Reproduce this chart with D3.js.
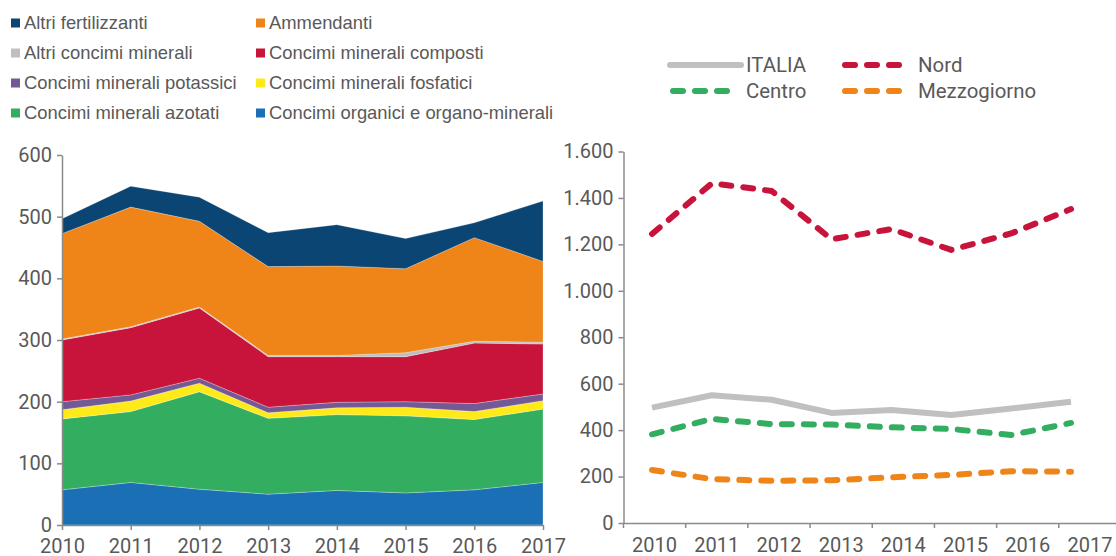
<!DOCTYPE html>
<meta charset="utf-8">
<style>
body { margin: 0; background: #fff; }
svg { display: block; }
.axis text { font: 20px Roboto, sans-serif; fill: #595959; }
.axis line, .axis path { fill: none; stroke: #8a8a8a; stroke-width: 1.5px; }
.legend-left text { font: 18.4px "Liberation Sans", Arial, sans-serif; fill: #595959; }
.legend-right text { font: 20.4px Roboto, sans-serif; fill: #595959; }
</style>
<body>
<script src="https://cdn.jsdelivr.net/npm/d3@7"></script>
<script>

// tonnellate (migliaia) per tipo di fertilizzante
var years = [2010, 2011, 2012, 2013, 2014, 2015, 2016, 2017];

var organici    = [57, 69, 58, 50, 56, 52, 57, 69];
var azotati     = [115, 115, 158, 123, 123, 125, 114, 119];
var fosfatici   = [15, 17, 14, 9, 11, 14, 13, 13.5];
var potassici   = [13, 10, 8, 9, 9, 9, 13, 11];
var composti    = [100, 109, 114, 82, 74, 73, 98, 81];
var altriConcimi = [1.5, 1.5, 1.5, 2, 2, 6.5, 3, 3];
var ammendanti  = [171, 194, 139, 144, 145, 136, 168, 131];
var altriFert   = [24, 34, 39, 55, 67, 49, 24, 98];

// ripartizione territoriale
var italia      = [497, 550, 531, 474, 487, 465, 493, 522];
var nord        = [1245, 1463, 1430, 1222, 1266, 1176, 1247, 1352];
var centro      = [382, 448, 426, 424, 412, 405, 379, 431];
var mezzogiorno = [228, 189, 182, 184, 197, 207, 223, 221];

var leftTicks = [0, 100, 200, 300, 400, 500, 600];
var rightTicks = [0, 200, 400, 600, 800, 1000, 1200, 1400, 1600];

var layers = [
  {key: "organici", name: "Concimi organici e organo-minerali", values: organici, color: "#1a6fb5"},
  {key: "azotati", name: "Concimi minerali azotati", values: azotati, color: "#33ae60"},
  {key: "fosfatici", name: "Concimi minerali fosfatici", values: fosfatici, color: "#ffea19"},
  {key: "potassici", name: "Concimi minerali potassici", values: potassici, color: "#735a94"},
  {key: "composti", name: "Concimi minerali composti", values: composti, color: "#c8143b"},
  {key: "altriConcimi", name: "Altri concimi minerali", values: altriConcimi, color: "#bfbfbf"},
  {key: "ammendanti", name: "Ammendanti", values: ammendanti, color: "#ef8419"},
  {key: "altriFert", name: "Altri fertilizzanti", values: altriFert, color: "#0a4573"}
];

// legend order (two columns, row by row)
var legendOrder = ["altriFert", "ammendanti", "altriConcimi", "composti",
                   "potassici", "fosfatici", "azotati", "organici"];

var regions = [
  {name: "ITALIA", values: italia, color: "#c0c0c0", dash: null},
  {name: "Nord", values: nord, color: "#c8143b", dash: "10,12"},
  {name: "Centro", values: centro, color: "#33ae60", dash: "10,12"},
  {name: "Mezzogiorno", values: mezzogiorno, color: "#ef8419", dash: "10,12"}
];

var svg = d3.select("body").append("svg")
    .attr("width", 1116)
    .attr("height", 556);

// ---------- left: stacked areas ----------
var table = years.map(function(y, i) {
  var row = {year: y};
  layers.forEach(function(l) { row[l.key] = l.values[i]; });
  return row;
});

var stack = d3.stack().keys(layers.map(function(l) { return l.key; }));
var series = stack(table);

var x = d3.scalePoint().domain(years).range([62, 543]);
var y = d3.scaleLinear().domain([0, 600]).range([525, 155]);

var area = d3.area()
    .x(function(d) { return x(d.data.year); })
    .y0(function(d) { return y(d[0]); })
    .y1(function(d) { return y(d[1]); });

svg.append("g").selectAll("path")
    .data(series)
  .enter().append("path")
    .attr("d", area)
    .attr("fill", function(d, i) { return layers[i].color; })
    .attr("stroke", "#fff")
    .attr("stroke-opacity", 0.5)
    .attr("stroke-width", 0.5);

svg.append("g")
    .attr("class", "axis")
    .attr("transform", "translate(0,525)")
    .call(d3.axisBottom(x).tickSize(5).tickSizeOuter(0).tickPadding(9));

svg.append("g")
    .attr("class", "axis")
    .attr("transform", "translate(62,0)")
    .call(d3.axisLeft(y).tickValues(leftTicks).tickSize(5).tickSizeOuter(0).tickPadding(5));

var legL = svg.append("g").attr("class", "legend-left");
legendOrder.forEach(function(k, i) {
  var l = layers.find(function(d) { return d.key === k; });
  var row = legL.append("g")
      .attr("transform", "translate(" + (i % 2 ? 256 : 11) + "," + (18.5 + Math.floor(i / 2) * 30) + ")");
  row.append("rect").attr("width", 9).attr("height", 9).attr("fill", l.color);
  row.append("text").attr("x", 13).attr("y", 10).text(l.name);
});

// ---------- right: regional lines ----------
var itFormat = d3.formatLocale({decimal: ",", thousands: ".", grouping: [3], currency: ["€", ""]}).format(",");

var xb = d3.scaleBand().domain(years).range([623.5, 1121]);
var xl = d3.scalePoint().domain(years).range([652, 1071]);
var yr = d3.scaleLinear().domain([0, 1600]).range([523, 151.5]);

var line = d3.line()
    .x(function(d, i) { return xl(years[i]); })
    .y(function(d) { return yr(d); });

var xAxisR = svg.append("g")
    .attr("class", "axis")
    .attr("transform", "translate(0,523)")
    .call(d3.axisBottom(xb).tickSize(0).tickSizeOuter(0).tickPadding(14.5));

xAxisR.selectAll(".edge")
    .data(years)
  .enter().append("line")
    .attr("class", "edge")
    .attr("x1", function(d) { return xb(d); })
    .attr("x2", function(d) { return xb(d); })
    .attr("y2", 5);

svg.append("g")
    .attr("class", "axis")
    .attr("transform", "translate(623.5,0)")
    .call(d3.axisLeft(yr).tickValues(rightTicks).tickFormat(itFormat)
      .tickSize(5).tickSizeOuter(0).tickPadding(5));

svg.append("g").selectAll("path")
    .data(regions)
  .enter().append("path")
    .attr("d", function(d) { return line(d.values); })
    .attr("fill", "none")
    .attr("stroke", function(d) { return d.color; })
    .attr("stroke-width", 6)
    .attr("stroke-linecap", function(d) { return d.dash ? "round" : "butt"; })
    .attr("stroke-linejoin", "round")
    .attr("stroke-dasharray", function(d) { return d.dash; });

var legR = svg.append("g").attr("class", "legend-right");
regions.forEach(function(r, i) {
  var col = i % 2, rowY = i < 2 ? 65 : 91;
  var x0 = col ? 842 : 670;
  // solid sample is 71px long, dashed one is three 16px dashes
  var x1 = r.dash ? x0 + 57 : x0 + 71;
  legR.append("line")
      .attr("x1", r.dash ? x0 + 3 : x0).attr("x2", x1)
      .attr("y1", rowY).attr("y2", rowY)
      .attr("stroke", r.color)
      .attr("stroke-width", 6)
      .attr("stroke-linecap", "round")
      .attr("stroke-dasharray", r.dash);
  legR.append("text")
      .attr("x", col ? 918 : 746)
      .attr("y", rowY + 6.5)
      .text(r.name);
});

</script>
</body>
